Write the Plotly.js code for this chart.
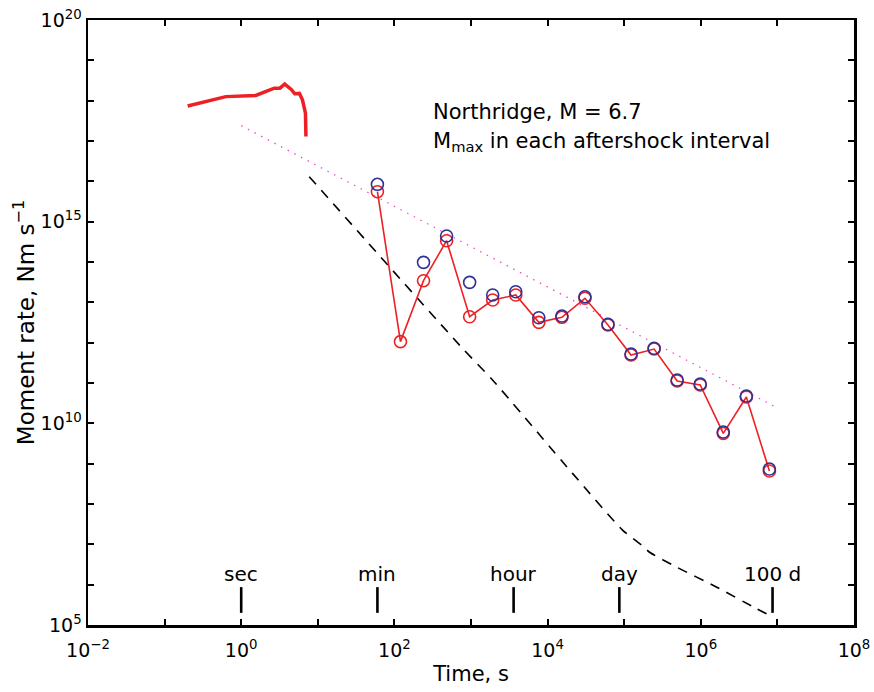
<!DOCTYPE html>
<html>
<head>
<meta charset="utf-8">
<script src="https://cdn.plot.ly/plotly-3.0.1.min.js"></script>
<style>
  html, body { margin: 0; padding: 0; background: #fff; }
  #chart { width: 874px; height: 692px; }
</style>
</head>
<body>
<div id="chart"></div>
<script>
// Mainshock moment-rate function (time in s, moment rate in N·m/s)
const mainTime = [0.2, 0.42, 0.63, 1.55, 2.1, 2.7, 3.2, 3.7, 4.5, 5.0, 5.75, 6.3, 6.9, 7.0];
const mainRate = [7.4e17, 1.07e18, 1.26e18, 1.35e18, 1.7e18, 2.04e18, 2.04e18, 2.57e18,
                  1.9e18, 1.48e18, 1.51e18, 1.05e18, 4.9e17, 1.29e17];

// Aftershock intervals (doubling window times, s)
const intervalTime = [60, 120, 240, 480, 960, 1920, 3840, 7680, 15360, 30720, 61440,
                      122880, 245760, 491520, 983040, 1966080, 3932160, 7864320];
// Red: moment rate of the aftershock interval
const redRate = [5.54e15, 1.06e12, 3.44e13, 3.37e14, 4.40e12, 1.14e13, 1.52e13, 3.19e12,
                 4.25e12, 1.26e13, 2.74e12, 4.94e11, 6.95e11, 1.12e11, 8.91e10, 5.65e9,
                 4.49e10, 6.56e8];
// Blue: rate from the largest event in each interval
const blueRate = [8.43e15, null, 9.8e13, 4.4e14, 3.13e13, 1.52e13, 1.83e13, 4.15e12,
                  4.58e12, 1.38e13, 2.85e12, 5.22e11, 7.24e11, 1.19e11, 9.42e10, 6.08e9,
                  4.75e10, 7.36e8];

// Upper-bound reference line (slope -1)
const boundTime = [1, 1e7];
const boundRate = [2.4e17, 2.4e10];

// Decay curve (dashed)
const decayTime = [7.73, 774, 1910, 21130, 95060, 1.80e5, 2.12e5, 4.73e5, 1.57e6, 5.24e6, 8.22e6];
const decayRate = [1.30e16, 7.24e11, 1.19e11, 5.75e8, 2.26e7, 8.71e6, 6.46e6, 2.78e6,
                   8.91e5, 2.59e5, 1.67e5];

// Time landmarks along the bottom
const markTime = [1, 60, 3600, 86400, 8.64e6];
const markLabel = ['sec', 'min', 'hour', 'day', '100 d'];
const markLow = 2.0e5, markHigh = 8.7e5;

// Tick exponents: labelled decades and unlabelled in-between decades
const xLabeled = [-2, 0, 2, 4, 6, 8];
const xMinor = [-1, 1, 3, 5, 7];
const yLabeled = [5, 10, 15, 20];
const yMinor = [6, 7, 8, 9, 11, 12, 13, 14, 16, 17, 18, 19];

const RED = 'rgb(237,32,36)';
const BLUE = 'rgb(46,49,146)';
const FONT = 'DejaVu Sans, Liberation Sans, Arial, sans-serif';

const supLabel = e => '10<sup>' + String(e).replace('-', '\u2212') + '</sup>';
const pow10 = e => Math.pow(10, e);

// vertical landmark ticks, built from the landmark times
const mx = [], my = [];
markTime.forEach(t => { mx.push(t, t, null); my.push(markLow, markHigh, null); });

const traces = [
  { x: mainTime, y: mainRate, mode: 'lines', line: { color: RED, width: 3.5 } },
  { x: boundTime, y: boundRate, mode: 'lines',
    line: { color: 'rgb(250,70,200)', width: 1.3, dash: '1.5px,6px' } },
  { x: decayTime, y: decayRate, mode: 'lines',
    line: { color: 'black', width: 1.6, dash: '10px,8px', shape: 'spline', smoothing: 0.6 } },
  { x: mx, y: my, mode: 'lines', line: { color: 'black', width: 2.6 } },
  { x: intervalTime, y: redRate, mode: 'lines+markers',
    line: { color: RED, width: 1.6 },
    marker: { symbol: 'circle-open', size: 12, color: RED, line: { width: 1.6, color: RED } } },
  { x: intervalTime, y: blueRate, mode: 'markers',
    marker: { symbol: 'circle-open', size: 12, color: BLUE, line: { width: 1.6, color: BLUE } } }
];

const annotations = markTime.map((t, i) => ({
  x: Math.log10(t), y: 5.92, xref: 'x', yref: 'y', text: markLabel[i],
  showarrow: false, xanchor: 'center', yanchor: 'bottom',
  font: { family: FONT, size: 20, color: 'black' }
}));
annotations.push(
  { x: 2.48, y: 17.72, xref: 'x', yref: 'y', text: 'Northridge, M = 6.7',
    showarrow: false, xanchor: 'left', yanchor: 'middle',
    font: { family: FONT, size: 21, color: 'black' } },
  { x: 2.48, y: 16.98, xref: 'x', yref: 'y', text: 'M<sub>max</sub> in each aftershock interval',
    showarrow: false, xanchor: 'left', yanchor: 'middle',
    font: { family: FONT, size: 21, color: 'black' } }
);

const axisCommon = {
  type: 'log',
  showgrid: false,
  zeroline: false,
  showline: true,
  linecolor: 'black',
  linewidth: 2.5,
  mirror: 'allticks',
  ticks: 'inside',
  ticklen: 6,
  tickwidth: 2,
  tickcolor: 'black',
  tickmode: 'array',
  tickfont: { family: FONT, size: 19, color: 'black' }
};
const minorCommon = { ticks: 'inside', ticklen: 6, tickwidth: 2, tickcolor: 'black', tickmode: 'array', showgrid: false };

const layout = {
  width: 874,
  height: 692,
  margin: { l: 88, r: 20, t: 20, b: 67 },
  paper_bgcolor: 'white',
  plot_bgcolor: 'white',
  showlegend: false,
  xaxis: Object.assign({}, axisCommon, {
    range: [-2, 8],
    tickvals: xLabeled.map(pow10),
    ticktext: xLabeled.map(supLabel),
    minor: Object.assign({}, minorCommon, { tickvals: xMinor.map(pow10) }),
    ticklabelstandoff: 7,
    title: { text: 'Time, s', font: { family: FONT, size: 21, color: 'black' }, standoff: 6 }
  }),
  yaxis: Object.assign({}, axisCommon, {
    range: [5, 20],
    tickvals: yLabeled.map(pow10),
    ticktext: yLabeled.map(supLabel),
    minor: Object.assign({}, minorCommon, { tickvals: yMinor.map(pow10) }),
    title: { text: 'Moment rate, Nm s<sup>\u22121</sup>', font: { family: FONT, size: 23, color: 'black' }, standoff: 0 }
  }),
  annotations: annotations
};

Plotly.newPlot('chart', traces, layout, { displayModeBar: false, staticPlot: true });
</script>
</body>
</html>
